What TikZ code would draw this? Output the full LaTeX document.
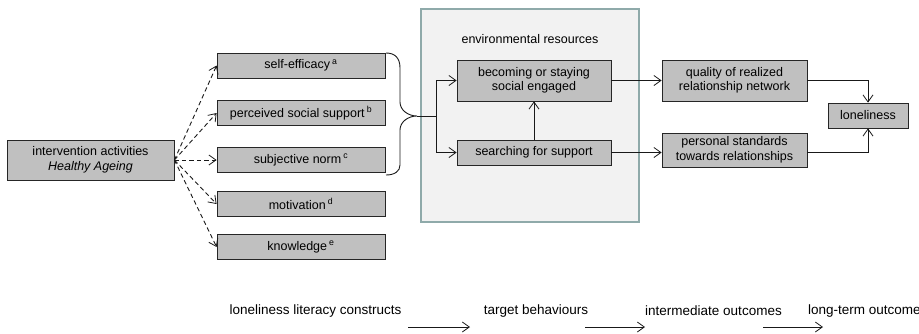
\documentclass[tikz,border=0pt]{standalone}
\usepackage{fontspec}
\setmainfont{Liberation Sans}
\usetikzlibrary{arrows.meta}
\definecolor{boxgrey}{HTML}{C0C0C0}
\definecolor{envfill}{HTML}{F2F2F2}
\definecolor{envline}{HTML}{8FAAAA}
\begin{document}
\begin{tikzpicture}[x=1pt,y=-1pt,
  tip/.style={-{Straight Barb[length=7pt,width=10pt,line width=0.8pt]}},
  greybox/.style={draw=black!85, fill=boxgrey, line width=0.8pt, inner sep=0pt,
    align=center, font=\fontsize{12.5}{14.5}\selectfont},
  conn/.style={draw=black!90, line width=0.9pt, tip},
  dconn/.style={conn, dash pattern=on 4.5pt off 3pt},
  steplabel/.style={inner sep=0pt, font=\fontsize{13.5}{15}\selectfont}]
\useasboundingbox (0,0) rectangle (919,333);
% environment box
\node[draw=envline, fill=envfill, line width=1.5pt, minimum width=218pt, minimum height=213pt, inner sep=0pt] (env) at (530,115.5) {};
\node[inner sep=0pt, font=\fontsize{12.5}{14.5}\selectfont] (envlab) at (530,39) {environmental resources};
% left column
\node[greybox, minimum width=167pt, minimum height=40pt] (inter) at (90.5,160) {intervention activities\\\textit{Healthy Ageing}};
\node[greybox, minimum width=168pt, minimum height=25pt] (self) at (301,65.5) {self-efficacy\,\textsuperscript{a}};
\node[greybox, minimum width=168pt, minimum height=25pt] (perc) at (301,113) {perceived social support\,\textsuperscript{b}};
\node[greybox, minimum width=168pt, minimum height=25pt] (subj) at (301,160) {subjective norm\,\textsuperscript{c}};
\node[greybox, minimum width=168pt, minimum height=25pt] (moti) at (301,204) {motivation\,\textsuperscript{d}};
\node[greybox, minimum width=168pt, minimum height=25pt] (know) at (301,247) {knowledge\,\textsuperscript{e}};
% middle
\node[greybox, minimum width=154pt, minimum height=41pt] (becom) at (534,80.5) {becoming or staying\\social engaged};
\node[greybox, minimum width=154pt, minimum height=25pt] (search) at (534,152.5) {searching for support};
% right
\node[greybox, minimum width=145pt, minimum height=41pt] (qual) at (734.5,80.5) {quality of realized\\relationship network};
\node[greybox, minimum width=145pt, minimum height=34pt] (pers) at (734.5,150) {personal standards\\towards relationships};
\node[greybox, minimum width=80pt, minimum height=25pt] (lone) at (868,115.5) {loneliness};
% dashed arrows
\foreach \t in {self,perc,subj,moti,know}
  \draw[dconn] (inter.east) -- (\t.west);
% brace
\coordinate (btip) at (417,116);
\draw[black!90, line width=0.9pt] (386,53) .. controls (395,53) and (400,58) .. (400,68) -- (400,102)
  .. controls (400,110) and (408,116) .. (btip)
  .. controls (408,116) and (400,122) .. (400,130) -- (400,165)
  .. controls (400,171) and (395,175) .. (386,175);
\coordinate (split) at (436,116);
\draw[black!90, line width=0.9pt] (btip) -- (split);
\draw[conn] (split) |- (becom.west);
\draw[conn] (split) |- (search.west);
\draw[conn] (search.north) -- (becom.south);
\draw[conn] (becom.east) -- (qual.west);
\draw[conn] (search.east) -- (search.east -| pers.west);
\draw[conn] (qual.east) -| (lone.north);
\draw[conn] (pers.east |- search.east) -| (lone.south);
% bottom legend
\node[steplabel] (l1) at (315.5,311) {loneliness literacy constructs};
\node[steplabel] (l2) at (536,311) {target behaviours};
\node[steplabel] (l3) at (713.5,311) {intermediate outcomes};
\node[steplabel, anchor=west] (l4) at (808,311) {long-term outcome};
\coordinate (a1s) at (408,327); \coordinate (a1e) at (470,327);
\coordinate (a2s) at (585,327); \coordinate (a2e) at (645,327);
\coordinate (a3s) at (763,327); \coordinate (a3e) at (823,327);
\draw[conn] (a1s) -- (a1e);
\draw[conn] (a2s) -- (a2e);
\draw[conn] (a3s) -- (a3e);
\end{tikzpicture}
\end{document}
